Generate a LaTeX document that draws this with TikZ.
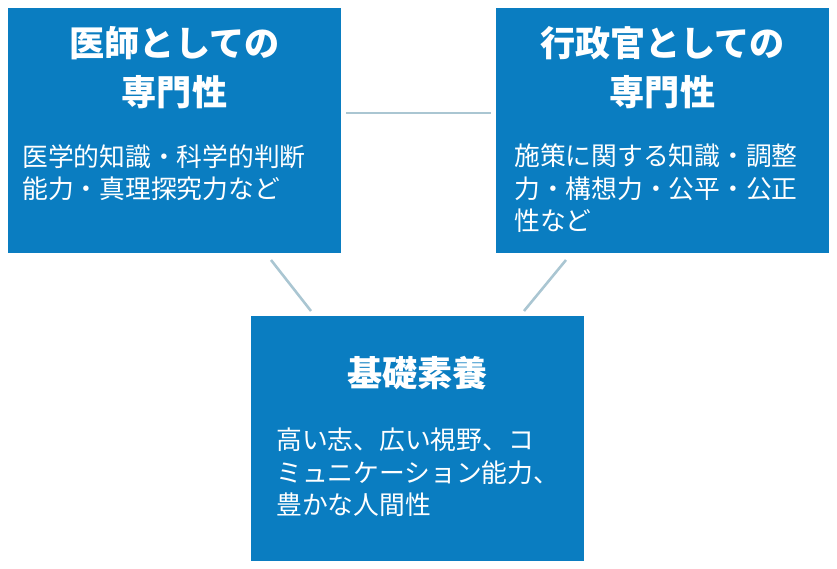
\documentclass[tikz,border=0pt]{standalone}
\usepackage{fontspec}
\newfontfamily\jp{Noto Sans CJK JP}
\definecolor{boxblue}{HTML}{0A7DC1}
\definecolor{linkgray}{HTML}{AAC6D2}
\tikzset{
  box/.style={fill=boxblue,draw=none,inner sep=0pt},
  title/.style={text=white,font=\jp\bfseries\fontsize{30}{42}\selectfont,align=center,anchor=north},
  body/.style={text=white,font=\jp\fontsize{22}{27.5}\selectfont,align=left,anchor=north west,inner sep=0pt},
  link/.style={draw=linkgray,line width=2.2pt}
}
\begin{document}
\begin{tikzpicture}[x=0.03cm,y=-0.03cm]
\useasboundingbox (0,0) rectangle (837,569);
% boxes
\fill[box] (8,8) rectangle (341,253);
\fill[box] (496,8) rectangle (829,253);
\fill[box] (251,316) rectangle (584,561);
% texts
\node[title] (med) at (174.5,22) {医師としての\\専門性};
\node[body] (medtxt) at (22,144) {医学的知識・科学的判断\\能力・真理探究力など};
\node[title] (adm) at (662.5,22) {行政官としての\\専門性};
\node[body] (admtxt) at (514,144) {施策に関する知識・調整\\力・構想力・公平・公正\\性など};
\node[title] (base) at (417.5,352) {基礎素養};
\node[body] (basetxt) at (276,428) {高い志、広い視野、コ\\ミュニケーション能力、\\豊かな人間性};
% links
\coordinate (a1) at (346,113); \coordinate (a2) at (491,113);
\coordinate (b1) at (271,260); \coordinate (b2) at (311,311);
\coordinate (c1) at (566,260); \coordinate (c2) at (524,311);
\draw[link] (a1) -- (a2);
\draw[link] (b1) -- (b2);
\draw[link] (c1) -- (c2);
\end{tikzpicture}
\end{document}
